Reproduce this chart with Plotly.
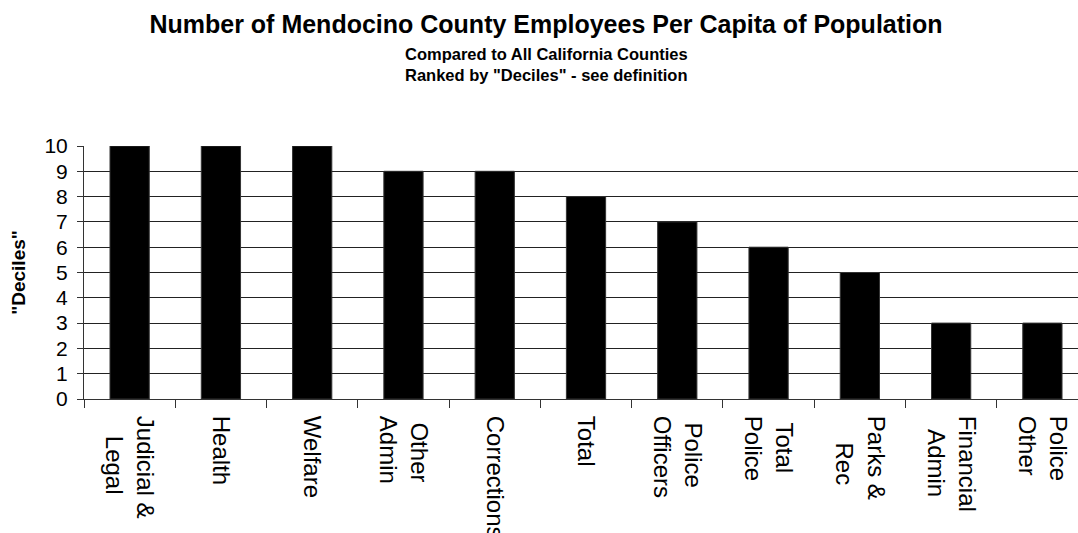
import plotly.graph_objects as go

NB = "\u00a0"  # non-breaking space, used to centre the two-line labels

# Decile rank of county staffing per capita, by department
categories = [
    "Judicial &<br>" + NB * 3 + "Legal",
    "Health",
    "Welfare",
    NB + "Other<br>Admin",
    "Corrections",
    "Total",
    NB + "Police<br>Officers",
    NB + "Total<br>Police",
    "Parks &<br>" + NB * 4 + "Rec",
    "Financial<br>" + NB * 2 + "Admin",
    "Police<br>Other",
]
deciles = [10, 10, 10, 9, 9, 8, 7, 6, 5, 3, 3]
y_ticks = list(range(0, 11))

FONT = "Liberation Sans, Arial, sans-serif"
H = 533
PLOT_TOP, PLOT_BOTTOM, PLOT_LEFT = 146, 399, 84
PLOT_W = 1078 - PLOT_LEFT
CENTER_X = 546


def paper_y(py):
    return (PLOT_BOTTOM - py) / (PLOT_BOTTOM - PLOT_TOP)


fig = go.Figure(
    go.Bar(
        x=categories,
        y=deciles,
        width=0.43,
        marker=dict(color="#000000", line=dict(color="#333333", width=1)),
    )
)

fig.update_layout(
    width=1078,
    height=H,
    margin=dict(l=PLOT_LEFT, r=0, t=PLOT_TOP, b=H - PLOT_BOTTOM, autoexpand=False),
    paper_bgcolor="white",
    plot_bgcolor="white",
    showlegend=False,
    font=dict(family=FONT, color="black"),
    title=dict(
        text="<b>Number of Mendocino County Employees Per Capita of Population</b>",
        font=dict(size=25, family=FONT, color="black"),
        x=CENTER_X / 1078,
        xanchor="center",
        y=1 - 24.5 / H,
        yanchor="middle",
    ),
    annotations=[
        dict(
            text="<b>Compared to All California Counties</b>",
            xref="paper", yref="paper",
            x=(CENTER_X - PLOT_LEFT) / PLOT_W, y=paper_y(54),
            xanchor="center", yanchor="middle",
            showarrow=False, font=dict(size=16.5, family=FONT, color="black"),
        ),
        dict(
            text='<b>Ranked by "Deciles" - see definition</b>',
            xref="paper", yref="paper",
            x=(CENTER_X - PLOT_LEFT) / PLOT_W, y=paper_y(75),
            xanchor="center", yanchor="middle",
            showarrow=False, font=dict(size=16.5, family=FONT, color="black"),
        ),
    ],
)

fig.update_xaxes(
    type="category",
    range=[-0.5, 10.39],
    automargin=False,
    tickangle=90,
    tickson="boundaries",
    ticks="outside",
    ticklen=8,
    tickcolor="#333333",
    ticklabelstandoff=11,
    showline=True,
    linecolor="#333333",
    linewidth=1,
    showgrid=False,
    tickfont=dict(size=24, family=FONT, color="black"),
)

fig.update_yaxes(
    range=[0, 10],
    automargin=False,
    tickmode="array",
    tickvals=y_ticks,
    ticks="outside",
    ticklen=6,
    tickcolor="#333333",
    ticklabelstandoff=5,
    showline=True,
    linecolor="#333333",
    linewidth=1,
    showgrid=True,
    gridcolor="#222222",
    gridwidth=1,
    zeroline=False,
    tickfont=dict(size=21, family=FONT, color="black"),
    title=dict(text='<b>"Deciles"</b>', font=dict(size=19, family=FONT, color="black"), standoff=13),
)

fig.write_html("out.html")
